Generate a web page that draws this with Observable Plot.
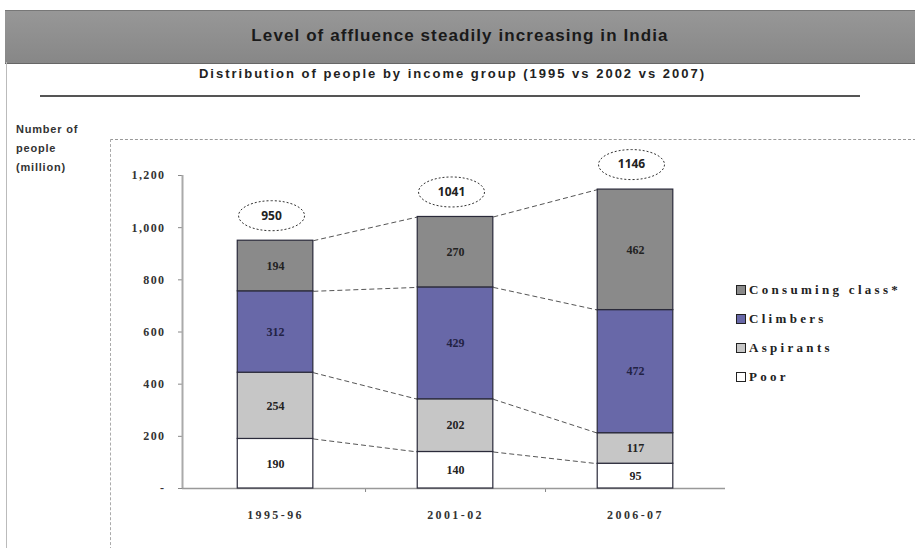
<!DOCTYPE html>
<html>
<head>
<meta charset="utf-8">
<script src="https://cdn.jsdelivr.net/npm/d3@7"></script>
<script src="https://cdn.jsdelivr.net/npm/@observablehq/plot@0.6"></script>
<style>
  body { margin: 0; background: #fff; }
  #page { position: relative; width: 915px; height: 548px; overflow: hidden;
          font-family: "Liberation Sans", Arial, sans-serif; color: #222; }
  #band { position: absolute; left: 5px; top: 10px; width: 910px; height: 52px;
          background: linear-gradient(#979797, #878787); border-top: 1px solid #777; border-bottom: 1px solid #666; }
  #title { position: absolute; left: 5px; top: 10px; width: 910px; line-height: 52px; text-align: center;
           font-size: 17px; font-weight: bold; letter-spacing: 1.1px; color: #1a1a1a; }
  #subtitle { position: absolute; left: 0; top: 66px; width: 905px; text-align: center;
              font-size: 13px; font-weight: bold; letter-spacing: 2px; color: #222; }
  #rule { position: absolute; left: 40px; top: 95px; width: 820px; height: 2px; background: #555; }
  #leftline { position: absolute; left: 6px; top: 62px; width: 1px; height: 486px; background: #bbb; }
  #frame { position: absolute; left: 110px; top: 139px; width: 805px; height: 420px;
           border-top: 1px dashed #999; border-left: 1px dashed #aaa; }
  #ylabel { position: absolute; left: 16px; top: 120px; font-size: 11px; line-height: 19px; color: #333;
            letter-spacing: 0.8px; font-weight: bold; }
  #legend { position: absolute; left: 736px; top: 275px; font-family: "Liberation Serif", "Times New Roman", serif;
            font-size: 13px; font-weight: bold; color: #222; letter-spacing: 3.3px; }
  #legend div { height: 29px; display: flex; align-items: center; white-space: nowrap; }
  #legend span.sw { display: inline-block; width: 8px; height: 8px; border: 1px solid #222; margin-right: 3px; }
  #chart { position: absolute; left: 0; top: 0; }
  #chart g[aria-label="y-axis tick label"] text { letter-spacing: 1.4px; font-weight: bold; }
</style>
</head>
<body>
<div id="page">
  <div id="band"></div>
  <div id="title">Level of affluence steadily increasing in India</div>
  <div id="subtitle">Distribution of people by income group (1995 vs 2002 vs 2007)</div>
  <div id="rule"></div>
  <div id="leftline"></div>
  <div id="frame"></div>
  <div id="ylabel">Number of<br>people<br>(million)</div>
  <div id="chart"></div>
  <div id="legend"></div>
</div>
<script>
// Survey periods and income groups (millions of people)
const periods = ["1995-96", "2001-02", "2006-07"];
const groups = ["Poor", "Aspirants", "Climbers", "Consuming class*"];
const poor = [190, 140, 95];
const aspirants = [254, 202, 117];
const climbers = [312, 429, 472];
const consuming = [194, 270, 462];
const totals = [950, 1041, 1146];
const yTicks = [0, 200, 400, 600, 800, 1000, 1200];
const groupColors = ["#ffffff", "#c6c6c6", "#6868a8", "#8a8a8a"];

const series = [poor, aspirants, climbers, consuming];
const halfBar = 0.21;

// Stacked segments with their running bounds
const segments = [];
periods.forEach((p, i) => {
  let base = 0;
  series.forEach((s, g) => {
    segments.push({i, period: p, group: groups[g], value: s[i], y1: base, y2: base + s[i]});
    base += s[i];
  });
});

// Connectors join each boundary of one bar to the same boundary of the next bar
const links = [];
for (let i = 0; i < periods.length - 1; i++) {
  series.forEach((_, g) => {
    const top = k => series.slice(0, g + 1).reduce((acc, s) => acc + s[k], 0);
    links.push({x1: i + halfBar, x2: i + 1 - halfBar, y1: top(i), y2: top(i + 1)});
  });
}

const totalData = periods.map((p, i) => ({i, total: totals[i]}));

// Dashed ellipse used behind each total
const ellipse = {
  draw(ctx) {
    const rx = 33, ry = 15, k = 0.5523;
    ctx.moveTo(rx, 0);
    ctx.bezierCurveTo(rx, ry * k, rx * k, ry, 0, ry);
    ctx.bezierCurveTo(-rx * k, ry, -rx, ry * k, -rx, 0);
    ctx.bezierCurveTo(-rx, -ry * k, -rx * k, -ry, 0, -ry);
    ctx.bezierCurveTo(rx * k, -ry, rx, -ry * k, rx, 0);
    ctx.closePath();
  }
};

const serif = "'Liberation Serif', 'Times New Roman', serif";

const chart = Plot.plot({
  width: 915,
  height: 548,
  marginLeft: 182,
  marginRight: 190,
  marginTop: 175,
  marginBottom: 60,
  x: {domain: [-0.517, 2.5], axis: null},
  y: {domain: [0, 1200], axis: null},
  color: {domain: groups, range: groupColors},
  marks: [
    Plot.axisY({ticks: yTicks, tickSize: 4, tickPadding: 13, stroke: "#888",
      tickFormat: d => d === 0 ? "-" : d3.format(",")(d),
      fontFamily: serif, fontSize: 12, fill: "#333"}),
    Plot.axisX({ticks: [0.5, 1.5], tickSize: 4, tickFormat: () => "", stroke: "#888"}),
    Plot.ruleX([-0.517], {stroke: "#aaa", strokeWidth: 2}),
    Plot.ruleY([0], {stroke: "#999", strokeWidth: 1.5}),
    Plot.link(links, {x1: "x1", x2: "x2", y1: "y1", y2: "y2", stroke: "#555",
      strokeWidth: 1, strokeDasharray: "5,3"}),
    Plot.rect(segments, {x1: d => d.i - halfBar, x2: d => d.i + halfBar, y1: "y1", y2: "y2",
      fill: "group", stroke: "#2a2a3a", strokeWidth: 1.2}),
    Plot.text(segments, {x: "i", y: d => (d.y1 + d.y2) / 2, text: d => String(d.value),
      fontFamily: serif, fontSize: 12, fontWeight: "bold", fill: d => d.group === "Climbers" ? "#222244" : "#222"}),
    Plot.dot(totalData, {x: "i", y: "total", dy: -25, dx: -4, symbol: ellipse, r: 10,
      fill: "white", stroke: "#333", strokeWidth: 1, strokeDasharray: "2,2"}),
    Plot.text(totalData, {x: "i", y: "total", dy: -25, dx: -4, text: d => String(d.total),
      fontSize: 12, fontWeight: "bold", fill: "#222"}),
    Plot.text(periods, {x: (d, i) => i, y: () => 0, dy: 27, text: d => d,
      fontFamily: serif, fontSize: 12, fontWeight: "bold", fill: "#333"})
  ]
});
document.getElementById("chart").append(chart);

// Widen the period labels under the bars
d3.select(chart).selectAll("text")
  .filter(function () { return periods.includes(this.textContent); })
  .style("letter-spacing", "2.4px");

// Legend, listed from the top of the stack down
const legend = d3.select("#legend");
groups.slice().reverse().forEach(g => {
  const row = legend.append("div");
  row.append("span").attr("class", "sw").style("background", groupColors[groups.indexOf(g)]);
  row.append("span").text(g);
});
</script>
</body>
</html>
